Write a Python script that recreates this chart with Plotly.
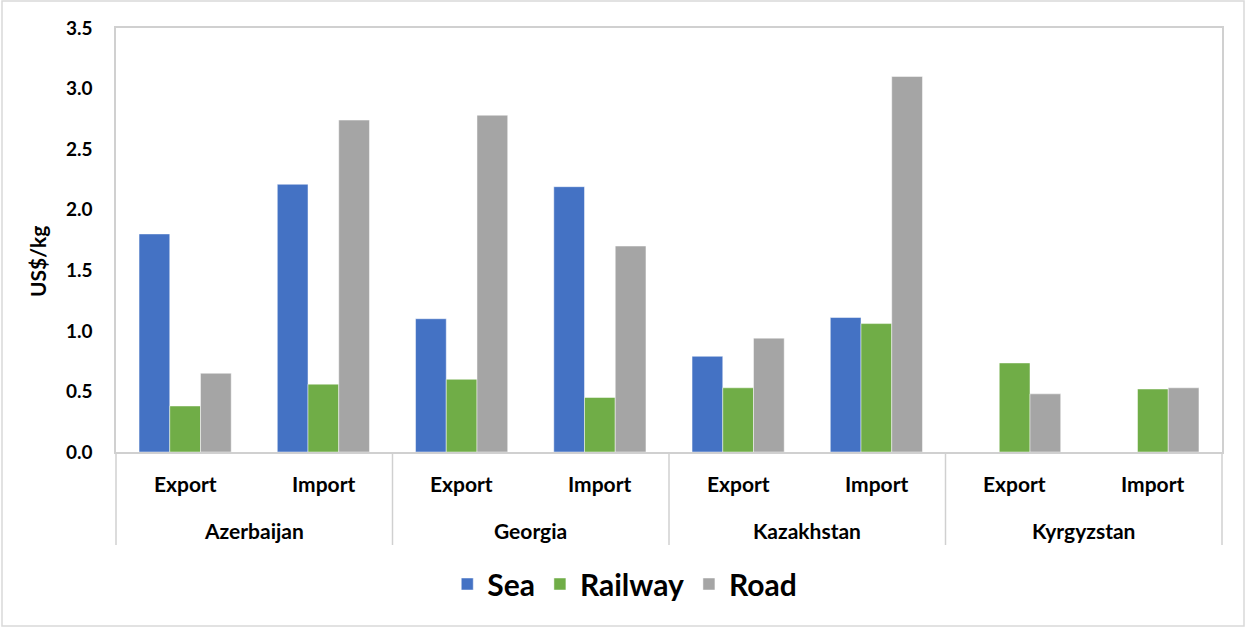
import plotly.graph_objects as go

# Freight cost by transport mode (US$ per kg)
countries = ["Azerbaijan", "Azerbaijan", "Georgia", "Georgia",
             "Kazakhstan", "Kazakhstan", "Kyrgyzstan", "Kyrgyzstan"]
flows = ["Export", "Import", "Export", "Import",
         "Export", "Import", "Export", "Import"]

sea = [1.80, 2.21, 1.10, 2.19, 0.79, 1.11, None, None]
railway = [0.38, 0.56, 0.60, 0.45, 0.53, 1.06, 0.735, 0.52]
road = [0.65, 2.74, 2.78, 1.70, 0.94, 3.10, 0.48, 0.53]

series = [("Sea", sea, "#4472C4"),
          ("Railway", railway, "#70AD47"),
          ("Road", road, "#A5A5A5")]

FONT = "Lato"
GRID = "#d0d0d0"

# plot-area geometry in pixels
W, H = 1247, 627
L, R, T, B = 116, 25, 28, 175
PW, PH = W - L - R, H - T - B


def py(pixel_y):
    """Convert a page pixel row into paper y."""
    return (H - B - pixel_y) / PH


fig = go.Figure()
for name, vals, color in series:
    fig.add_trace(go.Bar(
        name=name,
        x=[countries, flows],
        y=vals,
        marker=dict(color=color, line=dict(color="rgba(255,255,255,0.6)", width=0.8)),
    ))

fig.update_layout(
    width=W, height=H,
    margin=dict(l=L, r=R, t=T, b=B),
    paper_bgcolor="white", plot_bgcolor="white",
    barmode="group", bargap=1/3, bargroupgap=0,
    font=dict(family=FONT, color="black"),
    showlegend=True,
    legend=dict(
        orientation="h", x=0.46, xanchor="center", y=py(584), yanchor="middle",
        font=dict(family=FONT, size=30, color="black", weight="bold"),
        itemwidth=30, traceorder="normal",
    ),
    xaxis=dict(
        type="multicategory",
        showline=True, linecolor=GRID, linewidth=1.5, mirror=True,
        showdividers=False, showticklabels=False,
        showgrid=False, ticks="",
    ),
    yaxis=dict(
        range=[0, 3.5], dtick=0.5, tickformat=".1f",
        showline=True, linecolor=GRID, linewidth=1.5, mirror=True,
        showgrid=False, zeroline=False, ticks="",
        tickfont=dict(family=FONT, size=19, color="black", weight="bold"),
        ticklabelstandoff=18,
    ),
)

# y-axis title
fig.add_annotation(text="US$/kg", textangle=-90, xref="paper", yref="paper",
                   x=(37 - L) / PW, y=py(262), xanchor="center", yanchor="middle",
                   showarrow=False,
                   font=dict(family=FONT, size=21, color="black", weight="bold"))

# two-level category labels below the axis
n = len(flows)
for i, f in enumerate(flows):
    fig.add_annotation(text=f, xref="paper", yref="paper",
                       x=(i + 0.5) / n, y=py(483), xanchor="center", yanchor="middle",
                       showarrow=False,
                       font=dict(family=FONT, size=21, color="black", weight="bold"))

groups = list(dict.fromkeys(countries))
ng = len(groups)
for k, c in enumerate(groups):
    fig.add_annotation(text=c, xref="paper", yref="paper",
                       x=(k + 0.5) / ng, y=py(530), xanchor="center", yanchor="middle",
                       showarrow=False,
                       font=dict(family=FONT, size=21, color="black", weight="bold"))

# group separators running down through the label rows
for k in range(ng + 1):
    fig.add_shape(type="line", xref="paper", yref="paper",
                  x0=k / ng, x1=k / ng, y0=0, y1=py(545),
                  line=dict(color=GRID, width=1.5))

# thin frame round the whole chart area
fig.add_shape(type="rect", xref="paper", yref="paper",
              x0=(2 - L) / PW, x1=(1244 - L) / PW,
              y0=py(626), y1=py(1),
              line=dict(color="#d9d9d9", width=1.5), fillcolor="rgba(0,0,0,0)",
              layer="below")

fig.write_html("out.html")
